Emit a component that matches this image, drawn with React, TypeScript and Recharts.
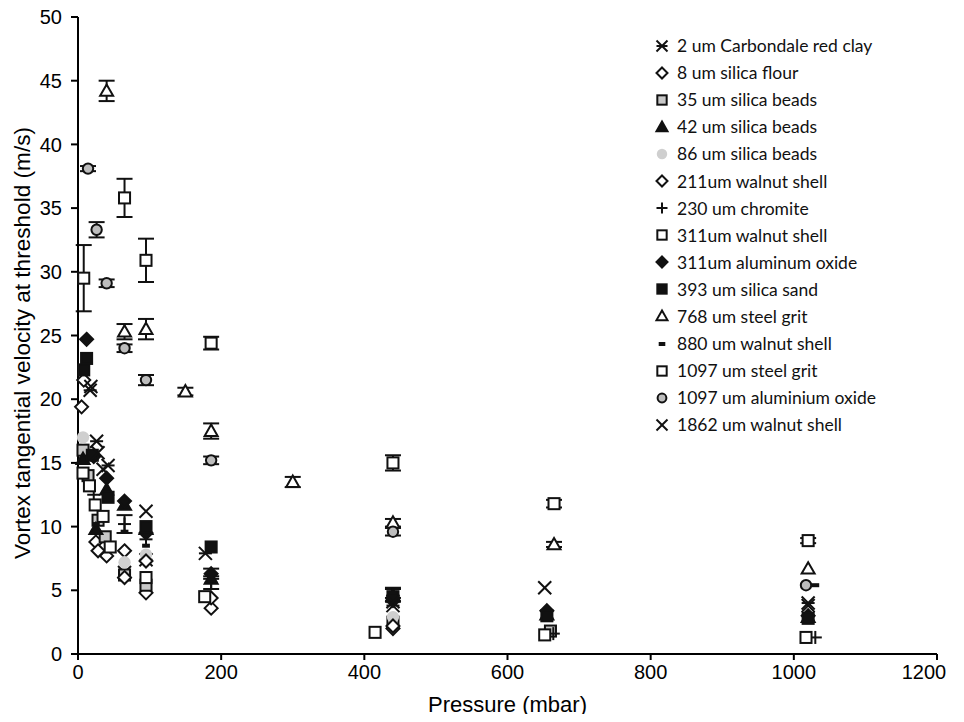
import React from 'react';
import { ScatterChart, Scatter, XAxis, YAxis, ErrorBar } from 'recharts';

type Pt = { p: number; v: number; e?: number };

// pressure (mbar) vs threshold tangential velocity (m/s), e = error half-range
const clay2um: Pt[] = [
  { p: 17, v: 20.7 }, { p: 26, v: 16.7 }, { p: 42, v: 14.8 }, { p: 65, v: 6.4 },
  { p: 95, v: 7.4 }, { p: 178, v: 7.9 }, { p: 440, v: 3.8 }, { p: 1020, v: 4.0 },
];
const flour8um: Pt[] = [
  { p: 8, v: 21.5 }, { p: 25, v: 8.8 }, { p: 40, v: 7.7 }, { p: 65, v: 8.1 },
  { p: 95, v: 4.8 }, { p: 186, v: 3.6 }, { p: 440, v: 2.0 },
];
const beads35um: Pt[] = [
  { p: 7, v: 16.0 }, { p: 14, v: 14.0 }, { p: 28, v: 10.5 }, { p: 38, v: 9.2 },
  { p: 65, v: 6.2 }, { p: 95, v: 5.4 }, { p: 440, v: 2.5 }, { p: 660, v: 1.8 },
];
const beads42um: Pt[] = [
  { p: 7, v: 15.3 }, { p: 25, v: 9.8 }, { p: 40, v: 12.9 }, { p: 65, v: 11.7 },
  { p: 95, v: 9.8 }, { p: 186, v: 5.9 }, { p: 440, v: 4.6 }, { p: 655, v: 3.1 },
  { p: 1020, v: 2.9 },
];
const beads86um: Pt[] = [
  { p: 7, v: 17.0 }, { p: 65, v: 7.2 }, { p: 95, v: 7.8 }, { p: 440, v: 2.9 },
];
const walnut211: Pt[] = [
  { p: 5, v: 19.4 }, { p: 28, v: 8.1 }, { p: 65, v: 6.0 }, { p: 95, v: 7.3 },
  { p: 186, v: 4.4 }, { p: 440, v: 2.2 },
];
const chromite230: Pt[] = [
  { p: 22, v: 12.5 }, { p: 65, v: 10.2, e: 0.7 }, { p: 95, v: 9.0 },
  { p: 186, v: 5.6, e: 0.5 }, { p: 440, v: 4.6, e: 0.5 }, { p: 664, v: 1.6 },
  { p: 1030, v: 1.3 },
];
const walnut311: Pt[] = [
  { p: 7, v: 14.2 }, { p: 16, v: 13.2 }, { p: 24, v: 11.7 }, { p: 35, v: 10.8 },
  { p: 45, v: 8.4 }, { p: 95, v: 6.0 }, { p: 177, v: 4.5 }, { p: 415, v: 1.7 },
  { p: 652, v: 1.5 }, { p: 1017, v: 1.3 },
];
const alumina311: Pt[] = [
  { p: 12, v: 24.7 }, { p: 22, v: 15.5 }, { p: 40, v: 13.8 }, { p: 65, v: 12.0 },
  { p: 95, v: 9.5 }, { p: 186, v: 6.3, e: 0.4 }, { p: 440, v: 4.2 }, { p: 655, v: 3.4 },
  { p: 1020, v: 3.0 },
];
const sand393: Pt[] = [
  { p: 8, v: 22.3 }, { p: 12, v: 23.2 }, { p: 20, v: 15.6 }, { p: 42, v: 12.3 },
  { p: 95, v: 10.0 }, { p: 186, v: 8.4 }, { p: 440, v: 4.5 }, { p: 655, v: 3.0 },
  { p: 1020, v: 2.8 },
];
const grit768: Pt[] = [
  { p: 40, v: 44.2, e: 0.8 }, { p: 65, v: 25.3, e: 0.6 }, { p: 95, v: 25.5, e: 0.8 },
  { p: 150, v: 20.6, e: 0.3 }, { p: 186, v: 17.5, e: 0.6 }, { p: 300, v: 13.5, e: 0.4 },
  { p: 440, v: 10.3, e: 0.3 }, { p: 665, v: 8.6, e: 0.2 }, { p: 1020, v: 6.7 },
];
const walnut880: Pt[] = [
  { p: 25, v: 10.2 }, { p: 65, v: 9.6 }, { p: 95, v: 8.5 }, { p: 186, v: 5.8 },
  { p: 440, v: 4.8, e: 0.4 }, { p: 1030, v: 5.4 },
];
const grit1097: Pt[] = [
  { p: 8, v: 29.5, e: 2.6 }, { p: 65, v: 35.8, e: 1.5 }, { p: 95, v: 30.9, e: 1.7 },
  { p: 186, v: 24.4, e: 0.5 }, { p: 440, v: 15.0, e: 0.6 }, { p: 665, v: 11.8, e: 0.3 },
  { p: 1020, v: 8.9, e: 0.2 },
];
const alumina1097: Pt[] = [
  { p: 14, v: 38.1, e: 0.2 }, { p: 26, v: 33.3, e: 0.6 }, { p: 40, v: 29.1, e: 0.3 },
  { p: 65, v: 24.0, e: 0.3 }, { p: 95, v: 21.5, e: 0.4 }, { p: 186, v: 15.2, e: 0.3 },
  { p: 440, v: 9.6, e: 0.3 }, { p: 1017, v: 5.4 },
];
const walnut1862: Pt[] = [
  { p: 18, v: 21.0 }, { p: 28, v: 15.8 }, { p: 35, v: 14.5 }, { p: 95, v: 11.2 },
  { p: 440, v: 4.1 }, { p: 652, v: 5.2 }, { p: 1020, v: 3.8 },
];

const xTicks = [0, 200, 400, 600, 800, 1000, 1200];
const yTicks = [0, 5, 10, 15, 20, 25, 30, 35, 40, 45, 50];

type Kind =
  | 'asterisk' | 'diamond' | 'squareGray' | 'triangleFilled' | 'dotGray' | 'plus'
  | 'square' | 'diamondFilled' | 'squareFilled' | 'triangle' | 'dash' | 'circleGray' | 'cross';

const series: { name: string; data: Pt[]; kind: Kind }[] = [
  { name: '2 um Carbondale red clay', data: clay2um, kind: 'asterisk' },
  { name: '8 um silica flour', data: flour8um, kind: 'diamond' },
  { name: '35 um silica beads', data: beads35um, kind: 'squareGray' },
  { name: '42 um silica beads', data: beads42um, kind: 'triangleFilled' },
  { name: '86 um silica beads', data: beads86um, kind: 'dotGray' },
  { name: '211um walnut shell', data: walnut211, kind: 'diamond' },
  { name: '230 um chromite', data: chromite230, kind: 'plus' },
  { name: '311um walnut shell', data: walnut311, kind: 'square' },
  { name: '311um aluminum oxide', data: alumina311, kind: 'diamondFilled' },
  { name: '393 um silica sand', data: sand393, kind: 'squareFilled' },
  { name: '768 um steel grit', data: grit768, kind: 'triangle' },
  { name: '880 um walnut shell', data: walnut880, kind: 'dash' },
  { name: '1097 um steel grit', data: grit1097, kind: 'square' },
  { name: '1097 um aluminium oxide', data: alumina1097, kind: 'circleGray' },
  { name: '1862 um walnut shell', data: walnut1862, kind: 'cross' },
];

function Marker({ cx, cy, kind, r = 6.5 }: { cx: number; cy: number; kind: Kind; r?: number }) {
  const sw = 2;
  const ink = '#111';
  switch (kind) {
    case 'asterisk':
      return (
        <g stroke={ink} strokeWidth={sw}>
          <line x1={cx - r} y1={cy - r} x2={cx + r} y2={cy + r} />
          <line x1={cx - r} y1={cy + r} x2={cx + r} y2={cy - r} />
          <line x1={cx - r} y1={cy} x2={cx + r} y2={cy} />
        </g>
      );
    case 'cross':
      return (
        <g stroke={ink} strokeWidth={sw}>
          <line x1={cx - r} y1={cy - r} x2={cx + r} y2={cy + r} />
          <line x1={cx - r} y1={cy + r} x2={cx + r} y2={cy - r} />
        </g>
      );
    case 'plus':
      return (
        <g stroke={ink} strokeWidth={sw}>
          <line x1={cx - r} y1={cy} x2={cx + r} y2={cy} />
          <line x1={cx} y1={cy - r} x2={cx} y2={cy + r} />
        </g>
      );
    case 'dash':
      return <rect x={cx - r * 0.6} y={cy - 2} width={r * 1.2} height={4} fill={ink} />;
    case 'diamond':
    case 'diamondFilled': {
      const d = `M${cx},${cy - r} L${cx + r},${cy} L${cx},${cy + r} L${cx - r},${cy} Z`;
      return <path d={d} fill={kind === 'diamond' ? '#fff' : ink} stroke={ink} strokeWidth={sw} />;
    }
    case 'square':
    case 'squareGray':
    case 'squareFilled': {
      const s = r * 0.85;
      const fill = kind === 'square' ? '#fff' : kind === 'squareGray' ? '#c8c8c8' : ink;
      return <rect x={cx - s} y={cy - s} width={s * 2} height={s * 2} fill={fill} stroke={ink} strokeWidth={sw} />;
    }
    case 'triangle':
    case 'triangleFilled': {
      const d = `M${cx},${cy - r} L${cx + r},${cy + r * 0.75} L${cx - r},${cy + r * 0.75} Z`;
      return <path d={d} fill={kind === 'triangle' ? '#fff' : ink} stroke={ink} strokeWidth={sw} />;
    }
    case 'dotGray':
      return <circle cx={cx} cy={cy} r={r * 0.95} fill="#cfcfcf" />;
    case 'circleGray':
      return <circle cx={cx} cy={cy} r={r * 0.8} fill="#bdbdbd" stroke={ink} strokeWidth={sw} />;
  }
  return null;
}

const fontFamily = 'Liberation Sans, Arial, sans-serif';
const axisFont = { fontFamily, fontSize: 20, fill: '#000' };

// x tick labels; the last one is nudged in so it stays inside the frame
function XTick(props: any) {
  const x = Math.min(props.x, 924);
  return (
    <text x={x} y={props.y + 16} textAnchor="middle" fontFamily={fontFamily} fontSize={20} fill="#000">
      {props.payload.value}
    </text>
  );
}

export default function App() {
  return (
    <div style={{ position: 'relative', width: 964, height: 722, margin: '-8px 0 -8px -8px' }}>
      {/* the chart fills the whole window, so keep scrollbars from appearing */}
      <style>{'html, body { overflow: hidden; }'}</style>
      <ScatterChart width={964} height={722} margin={{ top: 17, right: 27, bottom: 0, left: 0 }}>
        <XAxis
          type="number"
          dataKey="p"
          domain={[0, 1200]}
          ticks={xTicks}
          interval={0}
          height={68}
          tickSize={6}
          tickMargin={3}
          tick={<XTick />}
          axisLine={{ stroke: '#000', strokeWidth: 2 }}
          tickLine={{ stroke: '#000', strokeWidth: 2 }}
          label={{
            content: (props: any) => {
              const vb = props.viewBox;
              return (
                <text
                  x={vb.x + vb.width / 2}
                  y={712}
                  textAnchor="middle"
                  style={{ fontFamily, fontSize: 22 }}
                  fill="#000"
                >
                  Pressure (mbar)
                </text>
              );
            },
          }}
        />
        <YAxis
          type="number"
          dataKey="v"
          domain={[0, 50]}
          ticks={yTicks}
          width={78}
          tickSize={7}
          tickMargin={9}
          tick={axisFont}
          axisLine={{ stroke: '#000', strokeWidth: 2 }}
          tickLine={{ stroke: '#000', strokeWidth: 2 }}
          label={{
            content: () => (
              <text
                x={30}
                y={343}
                transform="rotate(-90 30 343)"
                textAnchor="middle"
                style={{ fontFamily, fontSize: 22.6 }}
                fill="#000"
              >
                Vortex tangential velocity at threshold (m/s)
              </text>
            ),
          }}
        />
        {series.map((s) => (
          <Scatter
            key={s.name}
            name={s.name}
            data={s.data}
            isAnimationActive={false}
            shape={(props: any) => <Marker cx={props.cx} cy={props.cy} kind={s.kind} />}
          >
            <ErrorBar dataKey="e" direction="y" width={8} stroke="#111" strokeWidth={2} />
          </Scatter>
        ))}
      </ScatterChart>

      <div
        style={{
          position: 'absolute',
          left: 648,
          top: 32,
          fontFamily: 'Lato, sans-serif',
          fontSize: 17.5,
          color: '#111',
        }}
      >
        {series.map((s) => (
          <div key={s.name} style={{ display: 'flex', alignItems: 'center', height: 27.1 }}>
            <svg width={16} height={16} style={{ marginLeft: 6 }}>
              <Marker cx={8} cy={8} kind={s.kind} r={5.5} />
            </svg>
            <span style={{ marginLeft: 7, whiteSpace: 'nowrap' }}>{s.name}</span>
          </div>
        ))}
      </div>
    </div>
  );
}
